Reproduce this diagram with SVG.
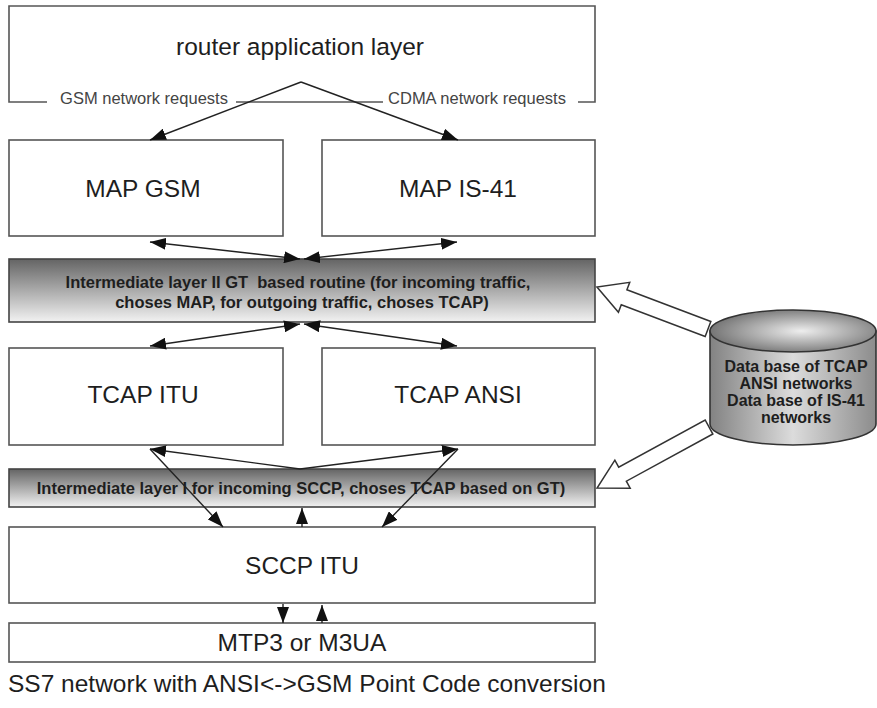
<svg xmlns="http://www.w3.org/2000/svg" width="877" height="708" viewBox="0 0 877 708">
  <style>
    .box { fill: #ffffff; stroke: #555555; stroke-width: 1.6; }
    .layer { fill: url(#layerShade); stroke: #444444; stroke-width: 1.6; }
    .frame { fill: none; stroke: #555555; stroke-width: 1.6; }
    .big { font-family: "Liberation Sans", Arial, sans-serif; font-size: 24.5px; fill: #1e1e1e; text-anchor: middle; }
    .bold { font-family: "Liberation Sans", Arial, sans-serif; font-size: 16.5px; font-weight: bold; fill: #1e1e1e; text-anchor: middle; }
    .dbtext { font-family: "Liberation Sans", Arial, sans-serif; font-size: 16px; font-weight: bold; fill: #1e1e1e; text-anchor: middle; }
    .small { font-family: "Liberation Sans", Arial, sans-serif; font-size: 16.5px; fill: #444444; text-anchor: middle; }
    .link { fill: none; stroke: #222222; stroke-width: 1.4; }
    .hollow { fill: #ffffff; stroke: #333333; stroke-width: 1.5; stroke-linejoin: miter; }
  </style>
  <defs>
    <marker id="head" markerUnits="userSpaceOnUse" markerWidth="17" markerHeight="12" refX="16" refY="6" orient="auto-start-reverse">
      <path d="M0,0 L16,6 L0,12 Z" fill="#111111"/>
    </marker>
    <linearGradient id="layerShade" x1="0" y1="0" x2="0" y2="1">
      <stop offset="0" stop-color="#646464"/>
      <stop offset="0.55" stop-color="#b2b2b2"/>
      <stop offset="1" stop-color="#f2f2f2"/>
    </linearGradient>
    <linearGradient id="drumSide" x1="0" y1="0" x2="1" y2="0">
      <stop offset="0" stop-color="#828282"/>
      <stop offset="0.5" stop-color="#dcdcdc"/>
      <stop offset="1" stop-color="#8c8c8c"/>
    </linearGradient>
    <radialGradient id="drumTop" cx="0.55" cy="0.5" r="0.6">
      <stop offset="0" stop-color="#eeeeee"/>
      <stop offset="1" stop-color="#6a6a6a"/>
    </radialGradient>
  </defs>

  <!-- application layer with the two request labels on its lower edge -->
  <g id="router-layer">
    <path class="frame" d="M47,102 L9,102 L9,6 L595,6 L595,102 L578,102"/>
    <path class="frame" d="M236,102 L383,102"/>
    <text class="big" x="300" y="55">router application layer</text>
    <text class="small" x="144" y="104">GSM network requests</text>
    <text class="small" x="477" y="104">CDMA network requests</text>
  </g>

  <g id="map-gsm">
    <rect class="box" x="9" y="140" width="274" height="96"/>
    <text class="big" x="143" y="197">MAP GSM</text>
  </g>
  <g id="map-is41">
    <rect class="box" x="322" y="140" width="273" height="96"/>
    <text class="big" x="458" y="197">MAP IS-41</text>
  </g>

  <g id="layer-two">
    <rect class="layer" x="9" y="259" width="586" height="63"/>
    <text class="bold" x="298" y="288" xml:space="preserve">Intermediate layer II GT  based routine (for incoming traffic,</text>
    <text class="bold" x="302" y="308">choses MAP, for outgoing traffic, choses TCAP)</text>
  </g>

  <g id="tcap-itu">
    <rect class="box" x="9" y="348" width="274" height="97"/>
    <text class="big" x="143" y="403">TCAP ITU</text>
  </g>
  <g id="tcap-ansi">
    <rect class="box" x="322" y="348" width="273" height="97"/>
    <text class="big" x="458" y="403">TCAP ANSI</text>
  </g>

  <g id="layer-one">
    <rect class="layer" x="9" y="469" width="586" height="38"/>
    <text class="bold" x="301" y="494">Intermediate layer I for incoming SCCP, choses TCAP based on GT)</text>
  </g>

  <g id="sccp-itu">
    <rect class="box" x="9" y="527" width="586" height="76"/>
    <text class="big" x="302" y="574">SCCP ITU</text>
  </g>

  <g id="mtp3">
    <rect class="box" x="9" y="623" width="586" height="39"/>
    <text class="big" x="302" y="651">MTP3 or M3UA</text>
  </g>

  <!-- block arrows from the database towards the two routing layers -->
  <g id="db-arrows">
    <path class="hollow" transform="translate(708,329) rotate(200.7)" d="M0,-8 L89.7,-8 L89.7,-16 L118.7,0 L89.7,16 L89.7,8 L0,8 Z"/>
    <path class="hollow" transform="translate(709,427) rotate(151.4)" d="M0,-8 L98.5,-8 L98.5,-16 L127.5,0 L98.5,16 L98.5,8 L0,8 Z"/>
  </g>

  <g id="database">
    <path d="M710,331 L710,424 A83,21 0 0 0 876,424 L876,331 Z" fill="url(#drumSide)" stroke="#333333" stroke-width="1.6"/>
    <ellipse cx="793" cy="331" rx="83" ry="21" fill="url(#drumTop)" stroke="#333333" stroke-width="1.6"/>
    <text class="dbtext" x="796" y="372">Data base of TCAP</text>
    <text class="dbtext" x="796" y="389">ANSI networks</text>
    <text class="dbtext" x="796" y="406">Data base of IS-41</text>
    <text class="dbtext" x="796" y="423">networks</text>
  </g>

  <g id="connectors">
    <path class="link" d="M301,82 L150,140" marker-end="url(#head)"/>
    <path class="link" d="M301,82 L458,140" marker-end="url(#head)"/>
    <path class="link" d="M150,242 L300,259" marker-start="url(#head)" marker-end="url(#head)"/>
    <path class="link" d="M457,242 L304,259" marker-start="url(#head)" marker-end="url(#head)"/>
    <path class="link" d="M300,324 L150,346" marker-start="url(#head)" marker-end="url(#head)"/>
    <path class="link" d="M304,324 L457,346" marker-start="url(#head)" marker-end="url(#head)"/>
    <path class="link" d="M150,449 L300,469 L458,449" marker-start="url(#head)" marker-end="url(#head)"/>
    <path class="link" d="M150,449 L223,527" marker-end="url(#head)"/>
    <path class="link" d="M458,449 L382,527" marker-end="url(#head)"/>
    <path class="link" d="M302,527 L302,508" marker-end="url(#head)"/>
    <path class="link" d="M283,604 L283,623" marker-end="url(#head)"/>
    <path class="link" d="M322,623 L322,605" marker-end="url(#head)"/>
  </g>

  <text class="big" x="8" y="692" style="text-anchor:start">SS7 network with ANSI&lt;-&gt;GSM Point Code conversion</text>
</svg>
